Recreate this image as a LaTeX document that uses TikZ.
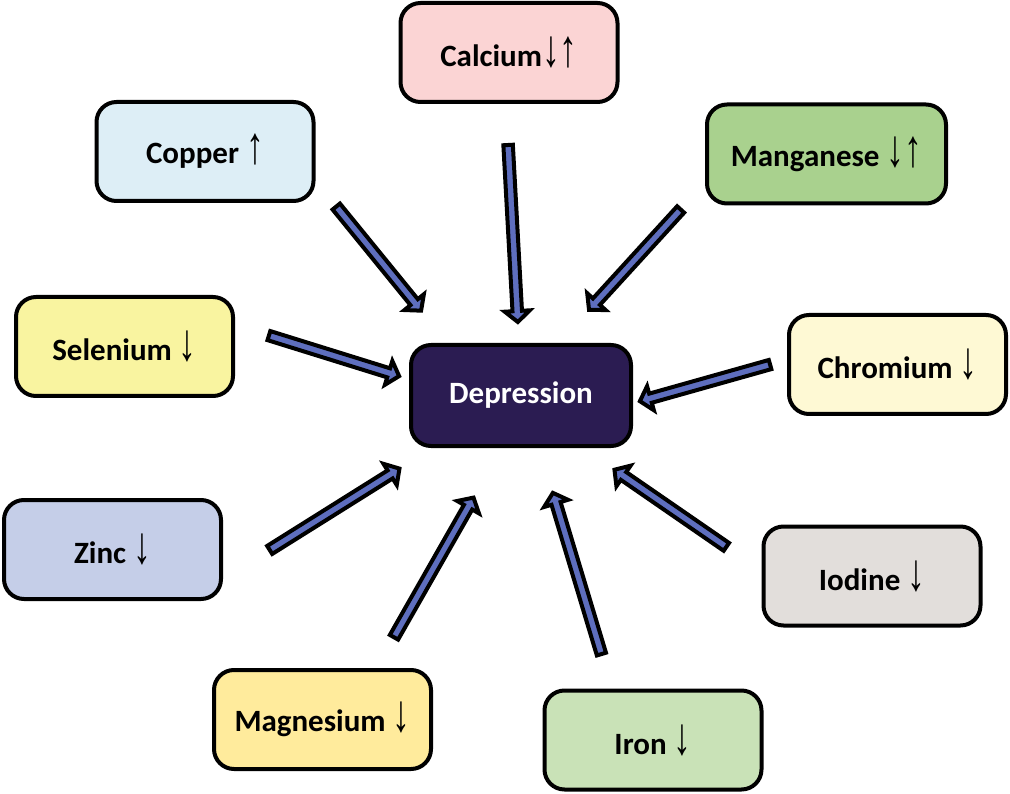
\documentclass[tikz,border=0pt]{standalone}
\usepackage{fontspec}
\setmainfont{Carlito}
\newfontfamily\arrfont{Liberation Sans}
\usetikzlibrary{calc}
\definecolor{cCalcium}{RGB}{251,212,212}
\definecolor{cCopper}{RGB}{221,238,246}
\definecolor{cMangan}{RGB}{169,209,142}
\definecolor{cSelen}{RGB}{249,244,160}
\definecolor{cDep}{RGB}{43,28,82}
\definecolor{cChrom}{RGB}{254,249,212}
\definecolor{cZinc}{RGB}{197,206,232}
\definecolor{cIodine}{RGB}{226,222,219}
\definecolor{cMagn}{RGB}{255,235,156}
\definecolor{cIron}{RGB}{201,226,183}
\definecolor{cArrow}{RGB}{94,110,190}
\newcommand\ar[1]{{\arrfont\fontseries{m}\selectfont\scalebox{1.15}[1.7]{#1}}}
\newcommand\blockarrow[2]{%
  \path ($(#2)!3pt!(#1)$) coordinate (bap) ($(#1)!2pt!(#2)$) coordinate (bat);
  \path ($(bap)!11pt!(bat)$) coordinate (bah);
  \filldraw[blockarr] ($(bat)!4.75pt!90:(bap)$) -- ($(bah)!4.75pt!90:(bap)$)
    -- ($(bah)!12.5pt!90:(bap)$) -- (bap) -- ($(bah)!12.5pt!-90:(bap)$)
    -- ($(bah)!4.75pt!-90:(bap)$) -- ($(bat)!4.75pt!-90:(bap)$) -- cycle;}
\begin{document}
\begin{tikzpicture}[x=1pt,y=-1pt,
  mineral/.style={draw=black, line width=4pt, rounded corners=20pt,
    minimum width=217pt, minimum height=99pt, inner sep=0pt,
    font=\fontsize{31}{33}\selectfont\bfseries, text=black},
  blockarr/.style={fill=cArrow, draw=black, line width=4pt, line join=miter}]
\useasboundingbox (0,0) rectangle (1010,794);
\node[mineral, fill=cCalcium] (calcium) at (509,52.5) {Calcium\ar{↓↑}};
\node[mineral, fill=cCopper] (copper) at (205,151.5) {Copper \ar{↑}};
\node[mineral, fill=cMangan, minimum width=239pt] (mangan) at (826.5,154) {Manganese \ar{↓↑}};
\node[mineral, fill=cSelen] (selen) at (124.5,346.5) {Selenium \ar{↓}};
\node[mineral, fill=cDep, text=white, minimum width=220pt, minimum height=101pt] (dep) at (521,395.5) {Depression};
\node[mineral, fill=cChrom] (chrom) at (897.5,364.5) {Chromium \ar{↓}};
\node[mineral, fill=cZinc] (zinc) at (112.5,549.5) {Zinc \ar{↓}};
\node[mineral, fill=cIodine] (iodine) at (872,576) {Iodine \ar{↓}};
\node[mineral, fill=cMagn] (magn) at (322.5,719.5) {Magnesium \ar{↓}};
\node[mineral, fill=cIron] (iron) at (653,740) {Iron \ar{↓}};
% arrow ends
\coordinate (copper-t) at (335,205);   \coordinate (copper-h) at (423,313);
\coordinate (calcium-t) at (508,143);  \coordinate (calcium-h) at (518,325);
\coordinate (mangan-t) at (682,208);   \coordinate (mangan-h) at (587,312);
\coordinate (selen-t) at (267,335);    \coordinate (selen-h) at (402,377);
\coordinate (chrom-t) at (772,364);    \coordinate (chrom-h) at (637,402);
\coordinate (zinc-t) at (268,551);     \coordinate (zinc-h) at (402,467);
\coordinate (magn-t) at (393,639);     \coordinate (magn-h) at (475,495);
\coordinate (iron-t) at (602,656);     \coordinate (iron-h) at (552,490);
\coordinate (iodine-t) at (728,548);   \coordinate (iodine-h) at (612,468);
\blockarrow{copper-t}{copper-h}
\blockarrow{calcium-t}{calcium-h}
\blockarrow{mangan-t}{mangan-h}
\blockarrow{selen-t}{selen-h}
\blockarrow{chrom-t}{chrom-h}
\blockarrow{zinc-t}{zinc-h}
\blockarrow{magn-t}{magn-h}
\blockarrow{iron-t}{iron-h}
\blockarrow{iodine-t}{iodine-h}
\end{tikzpicture}
\end{document}
